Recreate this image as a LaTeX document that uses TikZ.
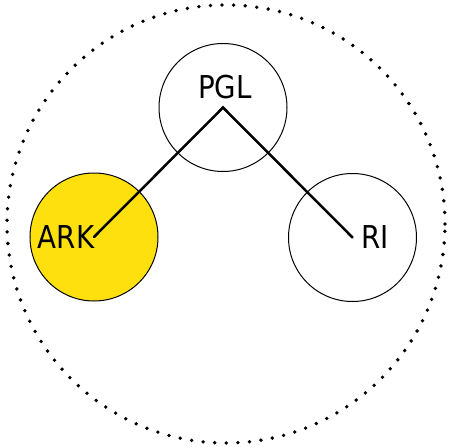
\documentclass[tikz,border=0pt]{standalone}
\usepackage{fontspec}
\setmainfont{DejaVu Sans}[FakeStretch=0.88]
\definecolor{arkyellow}{HTML}{FFE00F}
\begin{document}
\begin{tikzpicture}[x=1pt,y=-1pt,
  ring/.style={circle,draw=black,line width=1pt,minimum size=128pt,inner sep=0pt},
  lbl/.style={font=\fontsize{31.5}{31.5}\selectfont,inner sep=0pt},
  link/.style={line width=2.5pt,line cap=round}]
\useasboundingbox (0,0) rectangle (451,447);
\node[circle,draw=black,dash pattern=on 0pt off 11.6pt,line cap=round,line width=3.8pt,minimum size=438pt,inner sep=0pt] (outer) at (226,224) {};
\node[ring] (pgl) at (223,107.5) {};
\node[ring,fill=arkyellow] (ark) at (94,237) {};
\node[ring] (ri) at (352.5,237.5) {};
\draw[link] (ark.center) -- (pgl.center) -- (ri.center);
\node[lbl,anchor=base] (tpgl) at (225,98) {PGL};
\node[lbl,anchor=base east] (tark) at (94.5,248) {ARK};
\node[lbl,anchor=base west] (tri) at (361,248) {RI};
\end{tikzpicture}
\end{document}
